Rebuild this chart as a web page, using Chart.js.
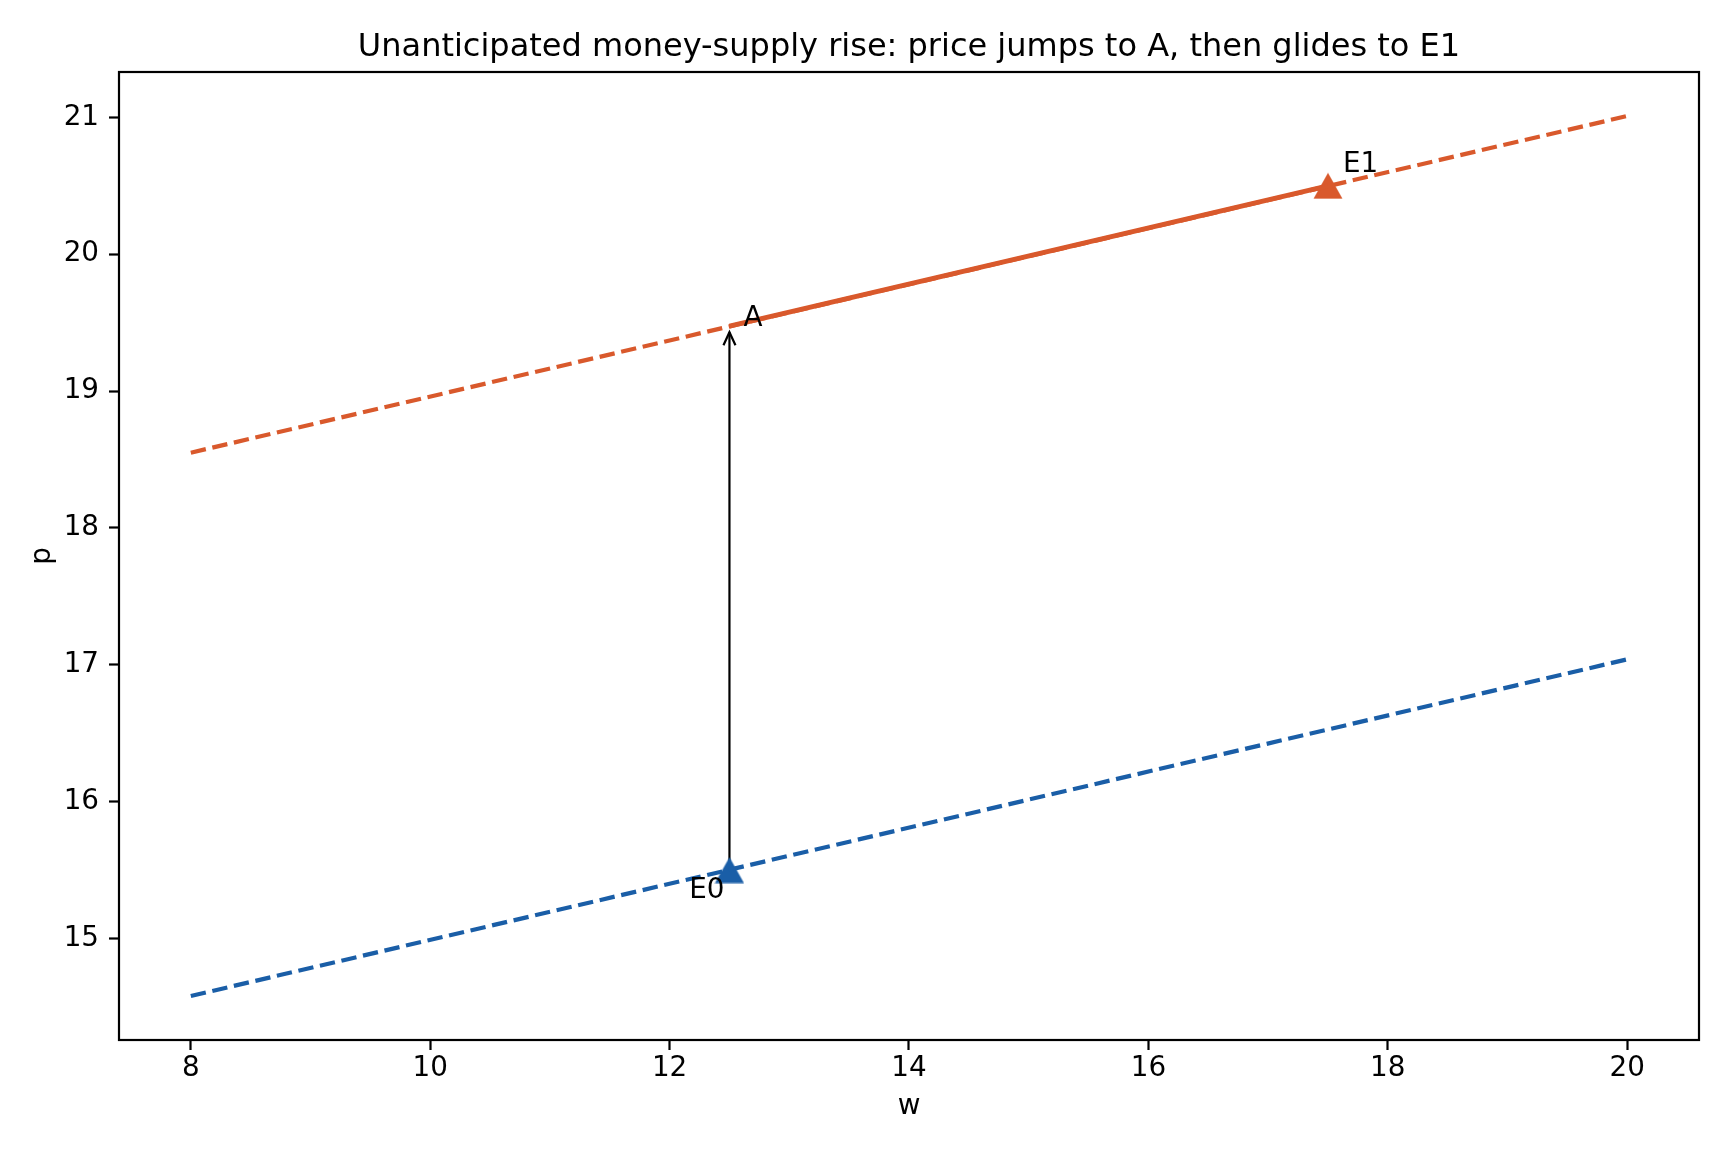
<!DOCTYPE html>
<html><head><meta charset="utf-8">
<script src="https://cdn.jsdelivr.net/npm/chart.js@4.4.0/dist/chart.umd.min.js"></script>
<style>html,body{margin:0;padding:0;background:#fff;} canvas{display:block;}</style>
</head><body>
<canvas id="c" width="1728" height="1152"></canvas>
<script>
// ---- data ----
const titleText = 'Unanticipated money-supply rise: price jumps to A, then glides to E1';
const xLabel = 'w';
const yLabel = 'p';
const xTicks = [8, 10, 12, 14, 16, 18, 20];
const yTicks = [15, 16, 17, 18, 19, 20, 21];
const oldW = [8, 20];            // initial curve (dashed blue)
const oldP = [14.58, 17.04];
const newW = [8, 20];            // new curve (dashed orange)
const newP = [18.55, 21.01];
const glideW = [12.5, 17.5];     // adjustment path A -> E1 (solid orange)
const glideP = [19.475, 20.5];
const markerW = [12.5, 17.5];    // E0, E1
const markerP = [15.5, 20.5];
const jumpW = [12.5, 12.5];      // arrow E0 -> A
const jumpP = [15.5, 19.43];
const labelNames = ['E0', 'A', 'E1'];
const labelW = [12.5, 12.5, 17.5];
const labelP = [15.5, 19.475, 20.5];

// ---- styles ----
const BLUE = '#1a5ea7';
const ORANGE = '#d9592c';
const FONT = 'DejaVu Sans';
const zip = (xs, ys) => xs.map((x, i) => ({x: x, y: ys[i]}));

const allW = oldW.concat(newW), allP = oldP.concat(newP);
const wMin = Math.min(...allW), wMax = Math.max(...allW);
const pMin = Math.min(...allP), pMax = Math.max(...allP);
const xPad = (wMax - wMin) * 0.05, yPad = (pMax - pMin) * 0.05;

function tri(color) {
  const c = document.createElement('canvas');
  c.width = 30; c.height = 27;
  const g = c.getContext('2d');
  g.fillStyle = color;
  g.beginPath();
  g.moveTo(15, 0.5); g.lineTo(29.5, 26.5); g.lineTo(0.5, 26.5); g.closePath();
  g.fill();
  return c;
}

const overlay = {
  id: 'overlay',
  beforeDatasetsDraw(chart) {
    const ctx = chart.ctx, xs = chart.scales.x, ys = chart.scales.y;
    const x0 = xs.getPixelForValue(jumpW[0]), y0 = ys.getPixelForValue(jumpP[0]);
    const x1 = xs.getPixelForValue(jumpW[1]), y1 = ys.getPixelForValue(jumpP[1]);
    ctx.save();
    ctx.strokeStyle = '#000'; ctx.lineWidth = 2.2; ctx.lineCap = 'butt';
    ctx.beginPath(); ctx.moveTo(x0, y0); ctx.lineTo(x1, y1); ctx.stroke();
    ctx.beginPath();
    ctx.moveTo(x1 - 6, y1 + 13); ctx.lineTo(x1, y1); ctx.lineTo(x1 + 6, y1 + 13);
    ctx.stroke();
    ctx.restore();
  },
  afterDraw(chart) {
    const ctx = chart.ctx, a = chart.chartArea, xs = chart.scales.x, ys = chart.scales.y;
    ctx.save();
    ctx.strokeStyle = '#000'; ctx.lineWidth = 2.2;
    ctx.strokeRect(a.left, a.top, a.right - a.left, a.bottom - a.top);
    ctx.fillStyle = '#000';
    ctx.font = '27.8px "' + FONT + '"';
    ctx.textBaseline = 'alphabetic';
    const offs = [[-5, 28, 'right'], [14, 0, 'left'], [15, -14, 'left']];
    labelNames.forEach((t, i) => {
      const px = xs.getPixelForValue(labelW[i]), py = ys.getPixelForValue(labelP[i]);
      ctx.textAlign = offs[i][2];
      ctx.fillText(t, px + offs[i][0], py + offs[i][1]);
    });
    ctx.restore();
  }
};

const tickFont = {family: FONT, size: 27.8};
new Chart(document.getElementById('c'), {
  type: 'line',
  data: {
    datasets: [
      {data: zip(oldW, oldP), borderColor: BLUE, borderWidth: 4.2, borderDash: [15.4, 6.7], pointRadius: 0, fill: false},
      {data: zip(newW, newP), borderColor: ORANGE, borderWidth: 4.2, borderDash: [15.4, 6.7], pointRadius: 0, fill: false},
      {data: zip(glideW, glideP), borderColor: ORANGE, borderWidth: 4.8, pointRadius: 0, fill: false},
      {data: zip(markerW, markerP), showLine: false, pointStyle: [tri(BLUE), tri(ORANGE)], pointRadius: 14,
       backgroundColor: [BLUE, ORANGE], borderColor: [BLUE, ORANGE]}
    ]
  },
  options: {
    responsive: false,
    devicePixelRatio: 1,
    animation: false,
    events: [],
    layout: {padding: {left: 0, right: 29, top: 0, bottom: 0}},
    plugins: {
      legend: {display: false},
      tooltip: {enabled: false},
      title: {display: true, fullSize: false, text: titleText, color: '#000',
              font: {family: FONT, size: 32, weight: 'normal'}, padding: {top: 28.8, bottom: 4.8}}
    },
    scales: {
      x: {
        type: 'linear', min: wMin - xPad, max: wMax + xPad,
        afterBuildTicks: s => { s.ticks = xTicks.map(v => ({value: v})); },
        afterFit: s => { s.height = 112; },
        ticks: {color: '#000', font: tickFont, padding: 2, maxRotation: 0, autoSkip: false},
        grid: {drawOnChartArea: false, drawTicks: true, tickLength: 10, tickWidth: 2.2, tickColor: '#000'},
        border: {display: false},
        title: {display: true, text: xLabel, color: '#000', font: tickFont, padding: {top: 0, bottom: 29}}
      },
      y: {
        type: 'linear', min: pMin - yPad, max: pMax + yPad,
        afterBuildTicks: s => { s.ticks = yTicks.map(v => ({value: v})); },
        afterFit: s => { s.width = 119; },
        ticks: {color: '#000', font: tickFont, padding: 10, autoSkip: false},
        grid: {drawOnChartArea: false, drawTicks: true, tickLength: 10, tickWidth: 2.2, tickColor: '#000'},
        border: {display: false},
        title: {display: true, text: yLabel, color: '#000', font: tickFont, padding: {top: 26, bottom: 0}}
      }
    }
  },
  plugins: [overlay]
});
</script>
</body></html>
